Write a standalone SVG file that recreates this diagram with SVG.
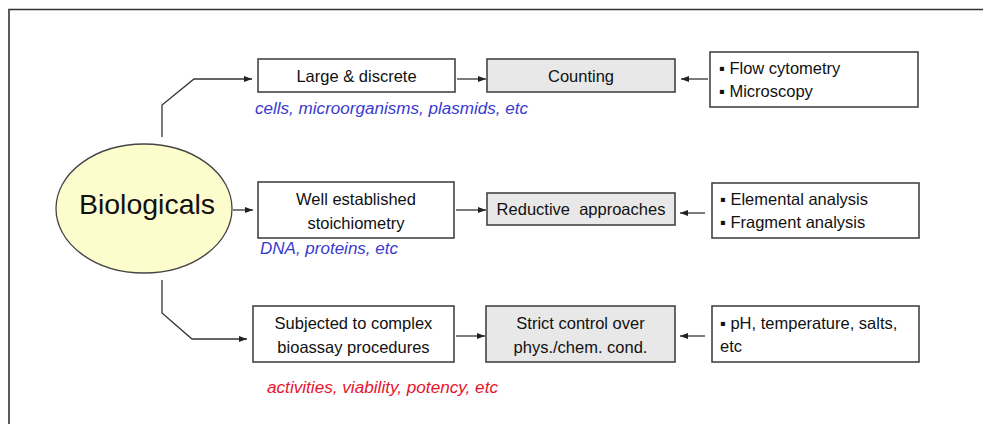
<svg xmlns="http://www.w3.org/2000/svg" width="983" height="424" viewBox="0 0 983 424">
<defs>
<marker id="ah" viewBox="0 0 8 8" refX="8" refY="4" markerWidth="8" markerHeight="8" markerUnits="userSpaceOnUse" orient="auto">
<path d="M0,1 L8,4 L0,7 Z" fill="#222"/>
</marker>
<style>
.box{fill:#fff;stroke:#444;stroke-width:1.6}
.gbox{fill:#e8e8e8;stroke:#444;stroke-width:1.6}
.t{font-family:"Liberation Sans",Arial,sans-serif;font-size:16.5px;fill:#111}
.c{text-anchor:middle}
.blue{font-family:"Liberation Sans",Arial,sans-serif;font-size:16.8px;font-style:italic;fill:#3a3ad0}
.red{font-family:"Liberation Sans",Arial,sans-serif;font-size:16.8px;font-style:italic;fill:#e8142c}
.con{fill:none;stroke:#333;stroke-width:1.3}
</style>
</defs>
<rect width="983" height="424" fill="#fff"/>
<path d="M9,424 V9.5 H983" fill="none" stroke="#333" stroke-width="1.6"/>

<g id="biologicals">
<ellipse cx="144" cy="208.5" rx="88" ry="64.5" fill="#fdfccd" stroke="#444" stroke-width="1.3"/>
<text x="147" y="214" class="t c" style="font-size:28.5px">Biologicals</text>
</g>

<g id="large">
<rect x="258" y="59" width="197" height="33" class="box"/>
<text x="356.5" y="82" class="t c">Large &amp; discrete</text>
</g>
<text x="255" y="114" class="blue" textLength="273" lengthAdjust="spacingAndGlyphs">cells, microorganisms, plasmids, etc</text>
<g id="counting">
<rect x="487" y="59" width="188" height="33" class="gbox"/>
<text x="581" y="82" class="t c">Counting</text>
</g>
<g id="flow">
<rect x="710" y="52" width="208" height="55" class="box"/>
<text x="719" y="74" class="t">▪ Flow cytometry</text>
<text x="719" y="97" class="t">▪ Microscopy</text>
</g>

<g id="well">
<rect x="258" y="182" width="196" height="56" class="box"/>
<text x="356" y="205" class="t c">Well established</text>
<text x="356" y="229" class="t c">stoichiometry</text>
</g>
<text x="260" y="254" class="blue" textLength="138" lengthAdjust="spacingAndGlyphs">DNA, proteins, etc</text>
<g id="reductive">
<rect x="487" y="193" width="188" height="32" class="gbox"/>
<text x="581" y="215" class="t c" xml:space="preserve">Reductive  approaches</text>
</g>
<g id="elemental">
<rect x="712" y="183" width="207" height="55" class="box"/>
<text x="720" y="205" class="t">▪ Elemental analysis</text>
<text x="720" y="228" class="t">▪ Fragment analysis</text>
</g>

<g id="subjected">
<rect x="253" y="306" width="201" height="56" class="box"/>
<text x="353.5" y="329" class="t c">Subjected to complex</text>
<text x="353.5" y="353" class="t c">bioassay procedures</text>
</g>
<text x="267" y="393" class="red" textLength="231" lengthAdjust="spacingAndGlyphs">activities, viability, potency, etc</text>
<g id="strict">
<rect x="486" y="306" width="189" height="56" class="gbox"/>
<text x="580.5" y="329" class="t c">Strict control over</text>
<text x="580.5" y="353" class="t c">phys./chem. cond.</text>
</g>
<g id="ph">
<rect x="712" y="306" width="207" height="56" class="box"/>
<text x="720" y="329" class="t">▪ pH, temperature, salts,</text>
<text x="720" y="352" class="t">etc</text>
</g>

<g id="connectors">
<path d="M162,137 V105 L194,79 H252" class="con" marker-end="url(#ah)"/>
<path d="M457,79 H486" class="con" marker-end="url(#ah)"/>
<path d="M708,79 H681" class="con" marker-end="url(#ah)"/>
<path d="M233,210 H253" class="con" marker-end="url(#ah)"/>
<path d="M456,210 H486" class="con" marker-end="url(#ah)"/>
<path d="M705,213 H680" class="con" marker-end="url(#ah)"/>
<path d="M162,280 V313 L192,339 H247" class="con" marker-end="url(#ah)"/>
<path d="M456,336 H485" class="con" marker-end="url(#ah)"/>
<path d="M705,336 H680" class="con" marker-end="url(#ah)"/>
</g>
</svg>
